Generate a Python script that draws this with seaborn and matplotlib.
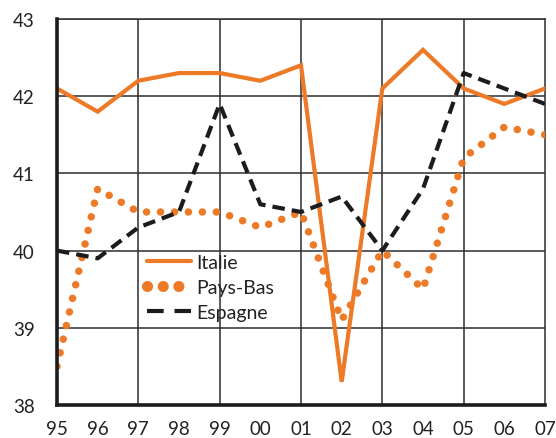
import matplotlib
matplotlib.use("Agg")
import matplotlib.pyplot as plt
from matplotlib.lines import Line2D
import pandas as pd
import seaborn as sns

# Data
years = list(range(1995, 2008))
year_labels = ["95", "96", "97", "98", "99", "00", "01", "02", "03", "04", "05", "06", "07"]
italie = [42.1, 41.8, 42.2, 42.3, 42.3, 42.2, 42.4, 38.3, 42.1, 42.6, 42.1, 41.9, 42.1]
pays_bas = [38.5, 40.8, 40.5, 40.5, 40.5, 40.3, 40.5, 39.1, 40.0, 39.5, 41.2, 41.6, 41.5]
espagne = [40.0, 39.9, 40.3, 40.5, 41.9, 40.6, 40.5, 40.7, 40.0, 40.8, 42.3, 42.1, 41.9]
y_ticks = [38, 39, 40, 41, 42, 43]
grid_years = [1997, 1999, 2001, 2003, 2005]

ORANGE = "#EC7A26"
DARK = "#1c1c1c"
GRID = "#2e2e2e"

df = pd.DataFrame({"year": years, "Italie": italie, "Pays-Bas": pays_bas, "Espagne": espagne})

sns.set_theme(style="white")
plt.rcParams["font.family"] = ["Lato", "DejaVu Sans"]

fig = plt.figure(figsize=(5.56, 4.39), dpi=100)
ax = fig.add_axes([57 / 556, 1 - 406 / 439, 488 / 556, 386 / 439])

# gridlines
for y in y_ticks:
    ax.axhline(y, color=GRID, lw=1.1, zorder=1)
for x in grid_years:
    ax.axvline(x, color=GRID, lw=1.1, zorder=1)

sns.lineplot(data=df, x="year", y="Italie", ax=ax, color=ORANGE, lw=3.0,
             solid_joinstyle="miter", zorder=4)
sns.lineplot(data=df, x="year", y="Pays-Bas", ax=ax, color=ORANGE, lw=5.4,
             linestyle=(0, (0.01, 1.85)), dash_capstyle="round", zorder=3)
sns.lineplot(data=df, x="year", y="Espagne", ax=ax, color=DARK, lw=3.0,
             linestyle=(0, (3.0, 1.7)), zorder=5)

ax.set_xlim(1995, 2007)
ax.set_ylim(38, 43)
ax.set_xticks(years)
ax.set_xticklabels(year_labels)
ax.set_yticks(y_ticks)
ax.set_xlabel("")
ax.set_ylabel("")

ax.tick_params(axis="x", direction="in", length=11, width=1.1, color=GRID,
               labelsize=13.5, pad=11, labelcolor="#222222")
ax.tick_params(axis="y", direction="out", length=6, width=1.1, color=GRID,
               labelsize=13.5, pad=10, labelcolor="#222222")

for side in ["top", "right"]:
    ax.spines[side].set_linewidth(1.1)
    ax.spines[side].set_color(GRID)
for side in ["left", "bottom"]:
    ax.spines[side].set_linewidth(2.6)
    ax.spines[side].set_color(DARK)
    ax.spines[side].set_zorder(6)

handles = [
    Line2D([], [], color=ORANGE, lw=3.0),
    Line2D([], [], color=ORANGE, lw=8.0, linestyle=(0, (0.01, 1.4)), dash_capstyle="round"),
    Line2D([], [], color=DARK, lw=3.0, linestyle=(0, (4.0, 2.6))),
]
leg = ax.legend(handles, ["Italie", "Pays-Bas", "Espagne"], loc="upper left",
                bbox_to_anchor=(147 / 556, 1 - 255 / 439), bbox_transform=fig.transFigure,
                frameon=False, fontsize=14, borderpad=0, borderaxespad=0,
                handlelength=2.27, handletextpad=0.28, labelspacing=0.4)
for t in leg.get_texts():
    t.set_color("#222222")

fig.savefig("out.png", dpi=100)
